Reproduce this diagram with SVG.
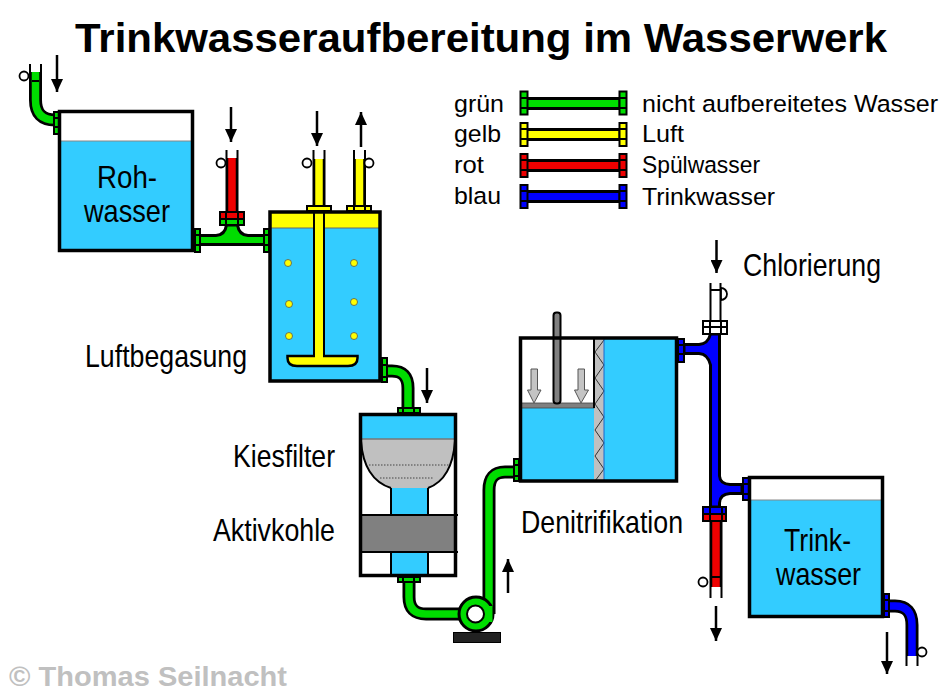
<svg xmlns="http://www.w3.org/2000/svg" width="945" height="697" viewBox="0 0 945 697">
<defs>
<marker id="ah" markerWidth="13" markerHeight="12" refX="13" refY="6" orient="auto" markerUnits="userSpaceOnUse"><path d="M0,0 L13,6 L0,12 Z" fill="#000"/></marker>
</defs>
<style>
text{font-family:"Liberation Sans",Arial,sans-serif;fill:#000}
.lb{font-size:32px}
.lg{font-size:24.500px}
.k{fill:none;stroke:#000;stroke-width:13}
.c{fill:none;stroke-width:7.500}
.sg{stroke:#00dd00}.sy{stroke:#ffff00}.sr{stroke:#ee0000}.sb{stroke:#0000ff}
.g{fill:#00dd00}.y{fill:#ffff00}.r{fill:#ee0000}.b{fill:#0000ff}
.w{fill:#33ccff}
.o{stroke:#000;stroke-width:3}
.box{fill:none;stroke:#000;stroke-width:3.500}
.f{stroke:#000;stroke-width:2}
.l{stroke:#000;stroke-width:2;fill:none}
.v{fill:#fff;stroke:#000;stroke-width:1.800}
.a{stroke:#000;stroke-width:2.500;fill:none;marker-end:url(#ah)}
.d{fill:#ffff00;stroke:#555;stroke-width:.8}
.ga{fill:#c4c4c4;stroke:#555;stroke-width:1}
</style>
<rect width="945" height="697" fill="#fff"/>
<text x="75" y="52" font-size="41" font-weight="bold" textLength="812" lengthAdjust="spacingAndGlyphs">Trinkwasseraufbereitung im Wasserwerk</text>

<g id="connectors">
<!-- inlet -->
<path class="k" d="M35.500,72 V100 Q35.500,120 55,120"/>
<path class="c sg" d="M35.500,72 V100 Q35.500,120 55,120"/>
<path class="l" d="M30,64 V72 M41,64 V72 M32,81 H39" stroke-width="1"/>
<circle class="v" cx="24" cy="76" r="4.500"/>
<rect class="f g" x="54" y="112" width="5" height="22"/><path class="l" d="M54,118 H59 M54,127 H59"/>
<path class="a" d="M57,55 V92"/>
<!-- raw to aeration -->
<path class="o g" d="M198,235.500 H216 Q225,235 226.500,225 H237.500 Q239,235 248,235.500 H265 V244.500 H198 Z"/>
<rect class="f g" x="195" y="229" width="5" height="23"/><path class="l" d="M195,235 H200 M195,245 H200"/>
<rect class="f g" x="264" y="229" width="5" height="23"/><path class="l" d="M264,235 H269 M264,245 H269"/>
<path class="k" d="M232,158 V212"/><path class="c sr" d="M232,158 V212"/>
<path class="l" d="M226.500,150 V158 M237.500,150 V158"/>
<circle class="v" cx="221" cy="163" r="4.500"/>
<rect class="f r" x="220" y="212" width="24" height="7"/>
<rect class="f g" x="220" y="219" width="24" height="6"/>
<path class="l" d="M226,212 V225 M238,212 V225"/>
<path class="a" d="M231,107 V142"/>
<!-- air pipes -->
<path class="k" d="M359.500,159 V205"/><path class="c sy" d="M359.500,159 V205"/>
<path class="l" d="M354,150 V159 M365,150 V159"/>
<circle class="v" cx="369" cy="163" r="4.500"/>
<rect class="f y" x="347" y="206" width="24" height="5"/>
<path class="l" d="M354,206 V211 M365,206 V211"/>
<path class="a" d="M361,147 V112"/>
<path class="k" d="M319,159 V205"/><path class="c sy" d="M319,159 V205"/>
<path class="l" d="M313.500,150 V159 M324.500,150 V159"/>
<circle class="v" cx="307" cy="163" r="4.500"/>
<rect class="f y" x="307" y="206" width="24" height="5"/>
<path class="a" d="M317,111 V146"/>
<!-- aeration to filter -->
<path class="k" d="M385,371 H392 Q408,371 408,388 V408"/>
<path class="c sg" d="M385,371 H392 Q408,371 408,388 V408"/>
<rect class="f g" x="382" y="358" width="5" height="24"/><path class="l" d="M382,365 H387 M382,377 H387"/>
<rect class="f g" x="398" y="408" width="22" height="5"/><path class="l" d="M403,408 V413 M414,408 V413"/>
<path class="a" d="M427,368 V403"/>
<!-- filter to pump to denit -->
<path class="k" d="M409,582 V597 Q409,614 426,614 H460"/>
<path class="c sg" d="M409,582 V597 Q409,614 426,614 H460"/>
<rect class="f g" x="398" y="577" width="22" height="5"/><path class="l" d="M403,577 V582 M414,577 V582"/>
<path class="k" d="M489,614 V490 Q489,472 505,472 H514"/>
<path class="c sg" d="M489,614 V490 Q489,472 505,472 H514"/>
<rect class="f g" x="514" y="459" width="5" height="22"/><path class="l" d="M514,465 H519 M514,476 H519"/>
<path class="a" d="M508,593 V559"/>
<!-- blue pipe -->
<path class="o b" d="M684,344.500 H699 Q708,344 710.500,334 H719.500 V476 Q720,484 730,484.500 H742 V493.500 H730 Q720,494 719.500,503 V507 H710.500 V365 Q708,354 699,353.500 H684 Z"/>
<rect class="f b" x="678" y="339" width="6" height="23"/><path class="l" d="M678,345 H684 M678,354 H684"/>
<rect class="f b" x="743" y="478" width="6" height="22"/><path class="l" d="M743,484 H749 M743,494 H749"/>
<rect class="f" x="703" y="321" width="24" height="13" fill="#fff"/><path class="l" d="M703,327 H727 M710,321 V334 M721,321 V334"/>
<path class="l" d="M710.500,283 V321 M720.500,283 V321 M710.500,290 H720.500"/>
<path fill="#fff" stroke="#000" stroke-width="1.800" d="M721,288 A6,6 0 0 1 721,300 Z"/>
<path class="a" d="M716.500,240 V273"/>
<!-- flush outlet -->
<path class="k" d="M716,521 V587"/><path class="c sr" d="M716,521 V587"/>
<path class="l" d="M710.500,587 V598 M721.500,587 V598 M712,577 H720" stroke-width="1"/>
<circle class="v" cx="703" cy="582" r="4.500"/>
<rect class="f b" x="703" y="507" width="23" height="7"/>
<rect class="f r" x="703" y="514" width="23" height="7"/>
<path class="l" d="M710,507 V521 M722,507 V521"/>
<path class="a" d="M716,606 V641"/>
<!-- outlet -->
<path class="k" d="M888,606 H895 Q912,606 912,625 V656"/>
<path class="c sb" d="M888,606 H895 Q912,606 912,625 V656"/>
<path class="l" d="M906.500,656 V666 M917.500,656 V666"/>
<circle class="v" cx="922" cy="652" r="4.500"/>
<rect class="f b" x="884" y="594" width="5" height="23"/><path class="l" d="M884,600 H889 M884,611 H889"/>
<path class="a" d="M887,632 V674"/>
</g>

<g id="rohwasser">
<rect class="w" x="60" y="141" width="133" height="110"/>
<path d="M60,141 H193" stroke="#888" stroke-width="1"/>
<rect class="box" x="59.500" y="111.500" width="133" height="139"/>
<text class="lb" x="97" y="188" textLength="60" lengthAdjust="spacingAndGlyphs">Roh-</text>
<text class="lb" x="84" y="222" textLength="86" lengthAdjust="spacingAndGlyphs">wasser</text>
</g>

<g id="luftbegasung">
<rect class="w" x="270" y="228" width="110" height="153"/>
<rect class="y" x="270" y="212" width="110" height="16"/>
<path d="M270,228 H380" stroke="#666" stroke-width="1"/>
<circle class="d" cx="288" cy="263" r="3.500"/><circle class="d" cx="289" cy="304" r="3.500"/><circle class="d" cx="289" cy="336" r="3.500"/>
<circle class="d" cx="354" cy="263" r="3.500"/><circle class="d" cx="354" cy="302" r="3.500"/><circle class="d" cx="354" cy="336" r="3.500"/>
<path class="y" stroke="#000" stroke-width="2" d="M314,211 H324 V356 H314 Z"/>
<path class="y" stroke="#000" stroke-width="2.500" d="M287.500,356 H357.500 V358 Q357.500,366 348,366 H297 Q287.500,366 287.500,358 Z"/>
<path d="M315,354 H323 V358 H315 Z" class="y"/>
<rect class="box" x="270" y="212" width="110" height="169"/>
<text class="lb" x="85" y="367" textLength="162" lengthAdjust="spacingAndGlyphs">Luftbegasung</text>
</g>

<g id="filter">
<rect x="360" y="414" width="96" height="25" class="w"/>
<path d="M361,439 H455 C454,455 450,480 428,488 H391 C366,480 362,455 361,439 Z" fill="#c0c0c0"/>
<path class="l" d="M361,441 C362,455 366,480 391,488 M455,441 C454,455 450,480 428,488" stroke-width="2.500"/>
<path d="M361,439 H455" stroke="#777" stroke-width="1.500"/>
<path d="M369,465 H450 M380,478 H434" stroke="#444" stroke-width="1" stroke-dasharray="1.500 1.500"/>
<rect class="w" x="391" y="488" width="37" height="27"/>
<rect x="360" y="515" width="96" height="37" fill="#808080"/>
<rect class="w" x="391" y="552" width="37" height="24"/>
<path class="l" d="M391,488 V515 M428,488 V515 M391,552 V576 M428,552 V576 M360,515 H458 M360,552 H458"/>
<rect class="box" x="360.500" y="414.500" width="95" height="161"/>
<text class="lb" x="233" y="467" textLength="102" lengthAdjust="spacingAndGlyphs">Kiesfilter</text>
<text class="lb" x="213" y="541" textLength="122" lengthAdjust="spacingAndGlyphs">Aktivkohle</text>
</g>

<g id="pumpe">
<rect x="453.500" y="632.500" width="47" height="10" fill="#222" stroke="#000"/>
<circle cx="476" cy="614" r="17" class="g" stroke="#000" stroke-width="3"/>
<path d="M486,606 H492.500 V622 H486 Z" class="g"/>
<circle cx="475.500" cy="614" r="8.500" fill="#fff" stroke="#000" stroke-width="2"/>
</g>

<g id="denitrifikation">
<rect class="w" x="521" y="408" width="73" height="73"/>
<rect class="w" x="604" y="338" width="72" height="143"/>
<rect x="594" y="338" width="10" height="143" fill="#c0c0c0"/>
<path d="M604,340 L595,352 L604,365 L595,378 L604,391 L595,404 L604,417 L595,430 L604,443 L595,456 L604,469 L595,481" fill="none" stroke="#333" stroke-width="1"/>
<path d="M604,338 V481" stroke="#1a66cc" stroke-width="1"/>
<rect x="521" y="403" width="73" height="5" fill="#808080" stroke="#444" stroke-width=".8"/>
<path class="l" d="M594,338 V408"/>
<rect x="553.500" y="312.500" width="7" height="91" rx="3" fill="#808080" stroke="#000" stroke-width="2"/>
<path class="ga" d="M531,369 H537.500 V390 H541 L534,403 L527.500,390 H531 Z"/>
<path class="ga" d="M578,369 H584.500 V390 H588.500 L581,403 L574.500,390 H578 Z"/>
<rect class="box" x="520.500" y="338" width="156" height="143"/>
<text class="lb" x="521" y="533" textLength="162" lengthAdjust="spacingAndGlyphs">Denitrifikation</text>
</g>

<g id="trinkwasser">
<rect class="w" x="750" y="500" width="132" height="116"/>
<path d="M750,500 H882" stroke="#888" stroke-width="1"/>
<rect class="box" x="749.500" y="477.500" width="133" height="139"/>
<text class="lb" x="784" y="551" textLength="67" lengthAdjust="spacingAndGlyphs">Trink-</text>
<text class="lb" x="776" y="585" textLength="85" lengthAdjust="spacingAndGlyphs">wasser</text>
</g>

<g id="chlorierung"><text class="lb" x="743" y="276" textLength="138" lengthAdjust="spacingAndGlyphs">Chlorierung</text></g>

<g id="legende">
<text class="lg" x="454" y="112" textLength="50" lengthAdjust="spacingAndGlyphs">grün</text>
<text class="lg" x="454" y="142" textLength="47" lengthAdjust="spacingAndGlyphs">gelb</text>
<text class="lg" x="454" y="173" textLength="30" lengthAdjust="spacingAndGlyphs">rot</text>
<text class="lg" x="454" y="204" textLength="47" lengthAdjust="spacingAndGlyphs">blau</text>
<text class="lg" x="642" y="112" textLength="296" lengthAdjust="spacingAndGlyphs">nicht aufbereitetes Wasser</text>
<text class="lg" x="642" y="142" textLength="42" lengthAdjust="spacingAndGlyphs">Luft</text>
<text class="lg" x="642" y="173" textLength="118" lengthAdjust="spacingAndGlyphs">Spülwasser</text>
<text class="lg" x="642" y="205" textLength="133" lengthAdjust="spacingAndGlyphs">Trinkwasser</text>
<g id="leg-gruen"><rect x="526" y="98.500" width="94" height="10" class="g o"/><rect x="520.500" y="91.500" width="7" height="23" class="g f"/><rect x="619.500" y="91.500" width="7" height="23" class="g f"/><path class="l" d="M520,98 H528 M520,108 H528 M619,98 H627 M619,108 H627"/></g>
<g id="leg-gelb"><rect x="526" y="129.500" width="94" height="10" class="y o"/><rect x="520.500" y="123" width="7" height="23" class="y f"/><rect x="619.500" y="123" width="7" height="23" class="y f"/><path class="l" d="M520,129 H528 M520,139 H528 M619,129 H627 M619,139 H627"/></g>
<g id="leg-rot"><rect x="526" y="160.500" width="94" height="10" class="r o"/><rect x="520.500" y="154" width="7" height="23" class="r f"/><rect x="619.500" y="154" width="7" height="23" class="r f"/><path class="l" d="M520,160 H528 M520,170 H528 M619,160 H627 M619,170 H627"/></g>
<g id="leg-blau"><rect x="526" y="191.500" width="94" height="10" class="b o"/><rect x="520.500" y="185" width="7" height="23" class="b f"/><rect x="619.500" y="185" width="7" height="23" class="b f"/><path class="l" d="M520,191 H528 M520,201 H528 M619,191 H627 M619,201 H627"/></g>
</g>

<text x="9" y="686" font-size="27" font-weight="bold" style="fill:#c0c0c0" textLength="278" lengthAdjust="spacingAndGlyphs">© Thomas Seilnacht</text>
</svg>
